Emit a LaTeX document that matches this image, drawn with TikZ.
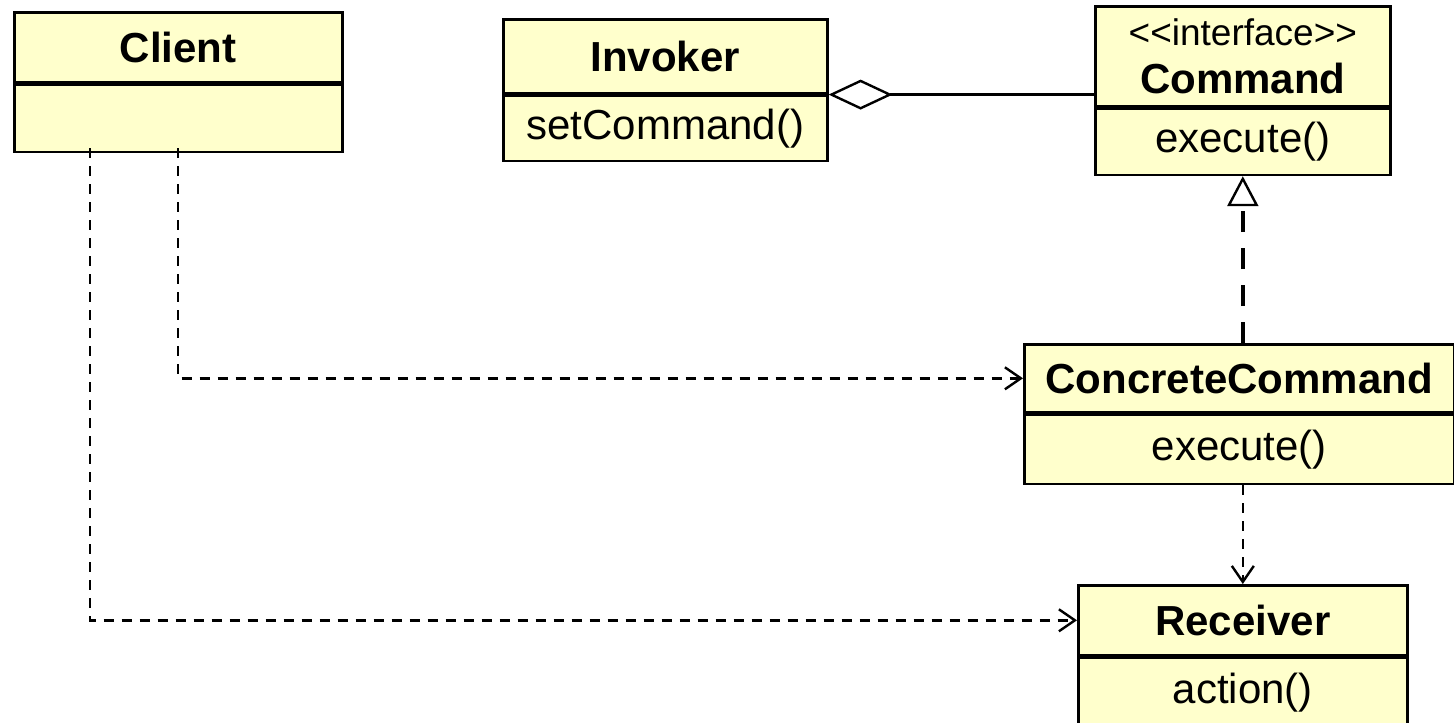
\documentclass[tikz,border=0pt]{standalone}
\definecolor{UFill}{HTML}{FFFFCC}
\definecolor{ULine}{HTML}{000000}
\usepackage{fontspec}
\setmainfont{Liberation Sans}
\usepackage{tikz}
\usetikzlibrary{arrows.meta,positioning}
\newcommand{\titlefont}{\fontsize{21}{25}\selectfont\bfseries}
\newcommand{\opfont}{\fontsize{21}{25}\selectfont}
% kerns keep << and >> from turning into guillemets
\newcommand{\stereo}[1]{{\fontsize{18.5}{22}\selectfont\mdseries
  <\kern0pt<#1>\kern0pt>}}
\newcommand{\uclass}[8]{% {name}{x}{y}{width}{head height}{body height}{head}{body}
  \node[classhead,minimum width=#4*0.5pt,minimum height=#5*0.5pt] (#1) at (#2,#3) {#7};
  \node[classbody,minimum width=#4*0.5pt,minimum height=#6*0.5pt] (#1-ops) at (#1.south west) {#8};
}
\tikzset{
  classhead/.style={rectangle,draw=ULine,fill=UFill,line width=1.3pt,
    anchor=north west,inner sep=0pt,align=center,font=\titlefont},
  classbody/.style={classhead,font=\opfont},
  depend/.style={line width=1.2pt,dash pattern=on 5pt off 4pt,
    -{Straight Barb[length=8pt,width=11pt,line width=1.2pt]}},
  realize/.style={line width=2pt,dash pattern=on 10.5pt off 8pt,
    -{Triangle[open,length=15pt,width=15.5pt,line width=1.2pt,fill=white]}},
  aggreg/.style={line width=1.2pt,
    {Diamond[open,length=32pt,width=15pt,fill=white]}-}
}
\begin{document}
\begin{tikzpicture}[x=0.5pt,y=-0.5pt]
  \useasboundingbox (0,0) rectangle (1454,722);
  % classes
  \uclass{client}{13}{11}{328}{70}{67}{Client}{}
  \uclass{invoker}{502}{18}{324}{74}{65}{Invoker}{setCommand()}
  \uclass{command}{1094}{5}{295}{100}{66}{\stereo{interface}\\[-1pt]Command}{execute()}
  \uclass{concrete}{1023}{343}{430}{68}{69}{ConcreteCommand}{execute()}
  \uclass{receiver}{1077}{584}{329}{70}{70}{Receiver}{action()}
  % where the client's dependencies leave its box
  \coordinate (cl-a) at (90,148);
  \coordinate (cl-b) at (178,148);
  % relations
  \draw[aggreg] (invoker.south east) -- (invoker.south east -| command.west);
  \draw[realize] (concrete.north -| command-ops.south) -- (command-ops.south);
  \draw[depend] (concrete-ops.south -| receiver.north) -- (receiver.north);
  \draw[depend] (cl-b) |- (concrete.west);
  \draw[depend] (cl-a) |- (receiver.west);
\end{tikzpicture}
\end{document}
